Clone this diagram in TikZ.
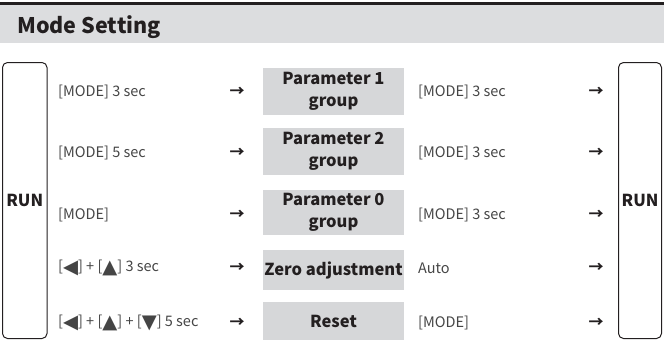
\documentclass[tikz,border=0pt]{standalone}
\usepackage{fontspec}
\setmainfont{Noto Sans CJK SC}
\newfontfamily\symfont{DejaVu Sans}
\definecolor{bandgray}{HTML}{DCDDDF}
\definecolor{boxgray}{HTML}{D6D7D9}
\definecolor{txt}{HTML}{454545}
\definecolor{dark}{HTML}{231F20}
\tikzset{
  runbox/.style={draw=dark, line width=1pt, rounded corners=5pt},
  grpbox/.style={fill=boxgray, minimum width=141pt, inner sep=0pt, align=center,
     text=dark, font=\fontsize{16.5}{22}\selectfont\bfseries},
  lbl/.style={anchor=west, inner sep=0pt, text=txt, font=\fontsize{14.5}{16}\selectfont},
  arr/.style={inner sep=0pt, text=dark, font=\fontsize{15}{16}\selectfont\bfseries},
  runtxt/.style={text=dark, font=\fontsize{16.5}{18}\selectfont\bfseries}
}
\newcommand{\keyL}{\raisebox{-1.2pt}{\fontsize{19.5}{16}\symfont\char"25C0}}
\newcommand{\keyU}{\raisebox{-1.2pt}{\fontsize{19.5}{16}\symfont\char"25B2}}
\newcommand{\keyD}{\raisebox{-1.2pt}{\fontsize{19.5}{16}\symfont\char"25BC}}
\begin{document}
\begin{tikzpicture}[x=1pt,y=-1pt]
\useasboundingbox (0,0) rectangle (664,340);
% title band
\fill[dark] (0,1.5) rectangle (664,4.5);
\fill[bandgray] (0,4.5) rectangle (664,42.5);
\node[anchor=base west, inner sep=0pt, text=dark, font=\fontsize{21.5}{23}\selectfont\bfseries] (title) at (17,34) {Mode Setting};
% RUN boxes
\draw[runbox] (2.5,62.5) rectangle (47,338.5);
\node[runtxt] (runL) at (24.75,200) {RUN};
\draw[runbox] (618.5,62.5) rectangle (661.5,338.5);
\node[runtxt] (runR) at (640,200) {RUN};
% group boxes
\node[grpbox, minimum height=47pt] (g1) at (333.5,91.5) {Parameter 1\\group};
\node[grpbox, minimum height=47pt] (g2) at (333.5,151.5) {Parameter 2\\group};
\node[grpbox, minimum height=45pt] (g3) at (333.5,212.5) {Parameter 0\\group};
\node[grpbox, minimum height=40pt] (g4) at (333.5,270) {Zero adjustment};
\node[grpbox, minimum height=38pt] (g5) at (333.5,321) {Reset};
% left labels
\node[lbl] (l1) at (58,92) {[MODE] 3 sec};
\node[lbl] (l2) at (58,153) {[MODE] 5 sec};
\node[lbl] (l3) at (58,215) {[MODE]};
\node[lbl] (l4) at (58,268) {[\keyL] + [\keyU] 3 sec};
\node[lbl] (l5) at (58,323) {[\keyL] + [\keyU] + [\keyD] 5 sec};
% left arrows
\foreach \y/\n in {92/1,153/2,215/3,268/4,323/5}{
  \node[arr] (al\n) at (237,\y) {→};
}
% right labels
\node[lbl] (r1) at (418,92) {[MODE] 3 sec};
\node[lbl] (r2) at (418,153) {[MODE] 3 sec};
\node[lbl] (r3) at (418,215) {[MODE] 3 sec};
\node[lbl] (r4) at (418,268) {Auto};
\node[lbl] (r5) at (418,323) {[MODE]};
% right arrows
\foreach \y/\n in {92/1,153/2,215/3,268/4,323/5}{
  \node[arr] (ar\n) at (596,\y) {→};
}
\end{tikzpicture}
\end{document}
